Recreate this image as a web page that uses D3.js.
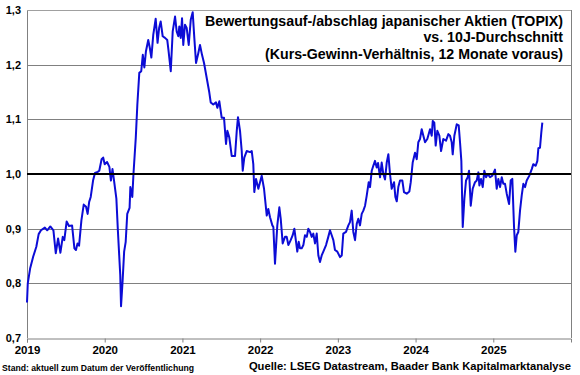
<!DOCTYPE html>
<html>
<head>
<meta charset="utf-8">
<script src="https://cdn.jsdelivr.net/npm/d3@7"></script>
<style>
  body { margin: 0; background: #fff; }
  svg { font-family: "Liberation Sans", Arial, sans-serif; }
</style>
</head>
<body>
<div id="chart"></div>
<script>
// Datum als Dezimaljahr, Wert = KGV relativ zum 10J-Durchschnitt
var dates = [
  2019.00, 2019.01, 2019.04, 2019.08, 2019.12, 2019.15, 2019.18, 2019.23, 2019.26, 2019.30,
  2019.34, 2019.37, 2019.40, 2019.43, 2019.46, 2019.48, 2019.51, 2019.54, 2019.58, 2019.61,
  2019.63, 2019.65, 2019.67, 2019.70, 2019.73, 2019.76, 2019.78, 2019.80, 2019.82, 2019.85,
  2019.875, 2019.91, 2019.93, 2019.96, 2019.98, 2020.00, 2020.03, 2020.06, 2020.08, 2020.10,
  2020.12, 2020.15, 2020.17, 2020.20, 2020.21, 2020.23, 2020.25, 2020.27, 2020.29, 2020.32,
  2020.33, 2020.355, 2020.37, 2020.40, 2020.42, 2020.445, 2020.47, 2020.49, 2020.51, 2020.53,
  2020.56, 2020.58, 2020.60, 2020.625, 2020.656, 2020.68, 2020.70, 2020.72, 2020.746, 2020.776,
  2020.805, 2020.82, 2020.85, 2020.875, 2020.905, 2020.926, 2020.947, 2020.96, 2020.978, 2020.995,
  2021.011, 2021.033, 2021.055, 2021.081, 2021.107, 2021.132, 2021.153, 2021.175, 2021.204, 2021.226,
  2021.252, 2021.278, 2021.312, 2021.346, 2021.364, 2021.397, 2021.432, 2021.449, 2021.475, 2021.505,
  2021.535, 2021.561, 2021.578, 2021.603, 2021.634, 2021.677, 2021.699, 2021.715, 2021.741, 2021.763,
  2021.776, 2021.796, 2021.827, 2021.87, 2021.892, 2021.912, 2021.925, 2021.947, 2021.977, 2022.02,
  2022.05, 2022.085, 2022.105, 2022.127, 2022.157, 2022.17, 2022.191, 2022.221, 2022.247, 2022.265,
  2022.29, 2022.32, 2022.342, 2022.363, 2022.393, 2022.419, 2022.44, 2022.462, 2022.478, 2022.496,
  2022.513, 2022.535, 2022.556, 2022.577, 2022.60, 2022.62, 2022.642, 2022.664, 2022.684, 2022.706,
  2022.728, 2022.749, 2022.77, 2022.792, 2022.813, 2022.848, 2022.877, 2022.899, 2022.921, 2022.942,
  2022.963, 2022.993, 2023.028, 2023.05, 2023.07, 2023.105, 2023.135, 2023.156, 2023.178, 2023.199,
  2023.221, 2023.243, 2023.263, 2023.285, 2023.307, 2023.328, 2023.35, 2023.371, 2023.397, 2023.414,
  2023.436, 2023.456, 2023.478, 2023.50, 2023.517, 2023.543, 2023.564, 2023.585, 2023.607, 2023.629,
  2023.65, 2023.671, 2023.693, 2023.723, 2023.74, 2023.758, 2023.778, 2023.80, 2023.83, 2023.851,
  2023.886, 2023.92, 2023.938, 2023.963, 2023.993, 2024.015, 2024.035, 2024.057, 2024.079, 2024.10,
  2024.122, 2024.151, 2024.186, 2024.208, 2024.221, 2024.241, 2024.259, 2024.28, 2024.306, 2024.328,
  2024.357, 2024.392, 2024.422, 2024.443, 2024.465, 2024.478, 2024.499, 2024.53, 2024.555, 2024.572,
  2024.589, 2024.607, 2024.628, 2024.649, 2024.671, 2024.688, 2024.71, 2024.735, 2024.765, 2024.787,
  2024.808, 2024.821, 2024.842, 2024.864, 2024.885, 2024.907, 2024.929, 2024.958, 2024.988, 2025.022,
  2025.044, 2025.065, 2025.087, 2025.109, 2025.129, 2025.151, 2025.173, 2025.203, 2025.224, 2025.245,
  2025.267, 2025.284, 2025.302, 2025.322, 2025.344, 2025.366, 2025.387, 2025.409, 2025.43, 2025.464,
  2025.495, 2025.515, 2025.546, 2025.567, 2025.58, 2025.601, 2025.618, 2025.631
];
var values = [
  0.765, 0.800, 0.827, 0.849, 0.867, 0.890, 0.897, 0.902, 0.897, 0.904,
  0.897, 0.855, 0.882, 0.856, 0.885, 0.879, 0.913, 0.905, 0.906, 0.864,
  0.861, 0.873, 0.869, 0.915, 0.944, 0.940, 0.927, 0.949, 0.958, 0.988,
  1.002, 1.004, 1.006, 1.027, 1.030, 1.018, 1.022, 1.013, 0.988, 1.009,
  0.988, 0.955, 0.895, 0.815, 0.758, 0.804, 0.858, 0.876, 0.927, 0.938,
  0.976, 0.958, 1.000, 1.067, 1.127, 1.185, 1.188, 1.218, 1.195, 1.224,
  1.245, 1.231, 1.213, 1.255, 1.284, 1.240, 1.267, 1.279, 1.252, 1.249,
  1.245, 1.227, 1.188, 1.261, 1.288, 1.261, 1.252, 1.270, 1.249, 1.285,
  1.236, 1.273, 1.267, 1.236, 1.282, 1.296, 1.249, 1.203, 1.221, 1.236,
  1.218, 1.203, 1.176, 1.149, 1.131, 1.127, 1.131, 1.121, 1.133, 1.103,
  1.103, 1.055, 1.079, 1.067, 1.033, 1.033, 1.079, 1.104, 1.079, 1.042,
  1.006, 1.030, 1.042, 1.040, 1.042, 1.018, 0.967, 0.991, 0.973, 0.997,
  0.973, 0.924, 0.936, 0.921, 0.906, 0.903, 0.836, 0.906, 0.939, 0.918,
  0.873, 0.885, 0.885, 0.870, 0.879, 0.888, 0.900, 0.876, 0.858, 0.876,
  0.864, 0.864, 0.870, 0.888, 0.885, 0.900, 0.894, 0.885, 0.891, 0.873,
  0.891, 0.851, 0.839, 0.851, 0.858, 0.870, 0.885, 0.897, 0.888, 0.879,
  0.861, 0.858, 0.848, 0.851, 0.891, 0.894, 0.906, 0.912, 0.933, 0.894,
  0.879, 0.909, 0.918, 0.906, 0.927, 0.933, 0.942, 0.960, 0.985, 0.976,
  1.006, 1.015, 1.024, 1.012, 1.020, 0.994, 1.021, 1.000, 0.990, 1.021,
  1.036, 1.000, 0.973, 0.985, 0.958, 0.950, 0.976, 0.988, 0.988, 0.967,
  0.964, 0.968, 0.985, 1.021, 1.039, 1.027, 1.058, 1.064, 1.082, 1.070,
  1.058, 1.064, 1.082, 1.070, 1.097, 1.094, 1.052, 1.079, 1.070, 1.042,
  1.064, 1.061, 1.073, 1.070, 1.058, 1.036, 1.070, 1.091, 1.089, 1.058,
  1.024, 0.903, 0.955, 0.988, 0.994, 1.006, 0.942, 0.973, 0.985, 0.988,
  1.003, 0.979, 0.991, 0.976, 1.006, 0.994, 1.000, 0.994, 0.997, 1.008,
  0.973, 0.991, 0.976, 0.994, 0.982, 0.982, 0.964, 0.945, 0.988, 0.991,
  0.903, 0.858, 0.888, 0.894, 0.933, 0.961, 0.982, 0.976, 0.988, 0.997,
  1.009, 1.018, 1.015, 1.024, 1.047, 1.048, 1.076, 1.094
];
var yearTicks = [2019, 2020, 2021, 2022, 2023, 2024, 2025];
var yTicks = [0.7, 0.8, 0.9, 1.0, 1.1, 1.2, 1.3];
var titleLines = [
  "Bewertungsauf-/abschlag japanischer Aktien (TOPIX)",
  "vs. 10J-Durchschnitt",
  "(Kurs-Gewinn-Verhältnis, 12 Monate voraus)"
];

var width = 580, height = 375;
var margin = {top: 10, right: 9, bottom: 37, left: 27};

var svg = d3.select("#chart").append("svg")
    .attr("width", width)
    .attr("height", height);

var x = d3.scaleLinear()
    .domain([2019, 2026])
    .range([margin.left, width - margin.right]);
var y = d3.scaleLinear()
    .domain([0.7, 1.3])
    .range([height - margin.bottom, margin.top]);

//Gitterlinien
svg.append("g")
    .selectAll("line")
    .data(yTicks.filter(function (d) { return d !== 1.0 && d !== 0.7; }))
    .enter()
    .append("line")
    .attr("x1", margin.left)
    .attr("x2", width - margin.right)
    .attr("y1", function (d) { return Math.round(y(d)) + 0.5; })
    .attr("y2", function (d) { return Math.round(y(d)) + 0.5; })
    .attr("stroke", "#808080")
    .attr("stroke-width", 1);

//rechter und linker Rand
svg.append("line")
    .attr("x1", width - margin.right + 0.5).attr("x2", width - margin.right + 0.5)
    .attr("y1", margin.top).attr("y2", height - margin.bottom)
    .attr("stroke", "#808080");
svg.append("line")
    .attr("x1", margin.left + 0.5).attr("x2", margin.left + 0.5)
    .attr("y1", margin.top).attr("y2", height - margin.bottom)
    .attr("stroke", "#808080");

//x-Achse
var xAxis = d3.axisBottom(x)
    .tickValues(yearTicks)
    .tickSize(4)
    .tickPadding(2)
    .tickFormat(d3.format("d"));
var gx = svg.append("g")
    .attr("transform", "translate(0," + (Math.round(y(0.7)) + 0.5) + ")")
    .call(xAxis);
gx.select(".domain").attr("stroke", "#808080");
gx.selectAll(".tick line").attr("stroke", "#808080");
gx.selectAll("text")
    .attr("font-size", 11.5)
    .attr("font-weight", "bold")
    .attr("fill", "#000")
    .attr("dy", "0.85em");

//y-Beschriftung
svg.append("g")
    .selectAll("text")
    .data(yTicks)
    .enter()
    .append("text")
    .attr("x", 21)
    .attr("y", function (d) { return y(d); })
    .attr("dy", "0.35em")
    .attr("text-anchor", "end")
    .attr("font-size", 11)
    .attr("font-weight", "bold")
    .text(function (d) { return d3.format(".1f")(d).replace(".", ","); });

//Titel
svg.append("g")
    .selectAll("text")
    .data(titleLines)
    .enter()
    .append("text")
    .attr("x", 563)
    .attr("y", function (d, i) { return 25.5 + i * 16.5; })
    .attr("text-anchor", "end")
    .attr("font-size", 14.2)
    .attr("font-weight", "bold")
    .text(function (d) { return d; });

//Linie
var line = d3.line()
    .x(function (d) { return x(d[0]); })
    .y(function (d) { return y(d[1]); });
svg.append("path")
    .datum(d3.zip(dates, values))
    .attr("d", line)
    .attr("fill", "none")
    .attr("stroke", "#0c0cd6")
    .attr("stroke-width", 2)
    .attr("stroke-linejoin", "round");

//Linie bei 1,0 schwarz
svg.append("line")
    .attr("x1", margin.left)
    .attr("x2", width - margin.right)
    .attr("y1", y(1.0))
    .attr("y2", y(1.0))
    .attr("stroke", "#000")
    .attr("stroke-width", 2);

//oberer Rand
svg.append("line")
    .attr("x1", margin.left).attr("x2", width - margin.right)
    .attr("y1", margin.top + 0.5).attr("y2", margin.top + 0.5)
    .attr("stroke", "#a0a0a0");

//Fusszeile
svg.append("text")
    .attr("x", 2)
    .attr("y", 371)
    .attr("font-size", 9)
    .attr("font-weight", "bold")
    .attr("textLength", 192)
    .attr("lengthAdjust", "spacingAndGlyphs")
    .text("Stand: aktuell zum Datum der Veröffentlichung");
svg.append("text")
    .attr("x", 571)
    .attr("y", 369.5)
    .attr("text-anchor", "end")
    .attr("font-size", 11.2)
    .attr("font-weight", "bold")
    .text("Quelle: LSEG Datastream, Baader Bank Kapitalmarktanalyse");
</script>
</body>
</html>
